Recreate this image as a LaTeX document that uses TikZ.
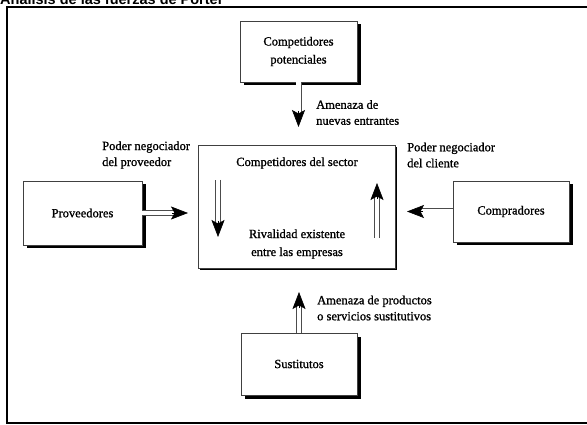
\documentclass[tikz,border=0pt]{standalone}
\usepackage{fontspec}
\setmainfont{Liberation Serif}
\newfontfamily\diagfont{Liberation Serif}[FakeBold=1.1]
\newfontfamily\titlefont{Liberation Sans}
\usetikzlibrary{arrows.meta,shadows,calc}
\tikzset{
  box/.style={draw=black!75, line width=0.7pt, fill=white, align=center,
    font=\diagfont\fontsize{12.5}{18}\selectfont,
    drop shadow={shadow xshift=3.5pt, shadow yshift=-3.5pt, fill=black, opacity=1}},
  bigbox/.style={draw=black!75, line width=0.7pt, fill=white,
    drop shadow={shadow xshift=2pt, shadow yshift=-2pt, fill=black, opacity=1}},
  lbl/.style={align=left, inner sep=0pt, anchor=west,
    font=\diagfont\fontsize{12.5}{16}\selectfont},
  txt/.style={align=center, inner sep=0pt, font=\diagfont\fontsize{12.5}{18}\selectfont},
  shaft/.style={double=white, draw=black!70, double distance=4.4pt, line width=0.8pt,
    shorten >=13pt},
  head/.style={draw=black, line width=0.6pt,
    -{Stealth[length=17pt, width=13pt, inset=3.5pt]}},
}
\newcommand{\forcearrow}[2]{%
  \draw[shaft] (#1) -- (#2);
  \draw[head] ($(#2)!16pt!(#1)$) -- (#2);}
\begin{document}
\begin{tikzpicture}[x=1pt, y=-1pt]
\useasboundingbox (0,0) rectangle (587,425);
\clip (0,0) rectangle (587,425);
\fill[white] (0,0) rectangle (587,425);
% frame and title
\draw[line width=1.5pt] (7,7) rectangle (600,423);
\node[anchor=base west, inner sep=0pt, font=\titlefont\bfseries\fontsize{14.5}{16}\selectfont] (title) at (0,4.5) {Análisis de las fuerzas de Porter};
% boxes
\node[box, minimum width=117pt, minimum height=61pt] (top) at (298.5,51.5) {Competidores\\potenciales};
\node[bigbox, minimum width=197pt, minimum height=123pt] (sector) at (296.5,206.5) {};
\node[box, minimum width=119pt, minimum height=64pt] (prov) at (82.5,213) {Proveedores};
\node[box, minimum width=116pt, minimum height=61pt] (comp) at (511,211.5) {Compradores};
\node[box, minimum width=116pt, minimum height=62pt] (sust) at (299,364) {Sustitutos};
% texts inside the sector box
\node[txt] (sectitle) at (297,163) {Competidores del sector};
\node[txt] (rival) at (297,244) {Rivalidad existente\\entre las empresas};
% end points
\coordinate (tEnd) at (298.5,127);
\coordinate (pEnd) at (188,213);
\coordinate (cEnd) at (407,211.5);
\coordinate (sEnd) at (299,292);
\coordinate (lA) at (218,180);
\coordinate (lB) at (218,237);
\coordinate (rA) at (377,238);
\coordinate (rB) at (377,183);
% arrows
\forcearrow{top.south}{tEnd}
\forcearrow{prov.east}{pEnd}
\forcearrow{comp.west}{cEnd}
\forcearrow{sust.north}{sEnd}
\forcearrow{lA}{lB}
\forcearrow{rA}{rB}
% labels
\node[lbl] (l1) at (316,112.5) {Amenaza de\\nuevas entrantes};
\node[lbl] (l2) at (102,155) {Poder negociador\\del proveedor};
\node[lbl] (l3) at (407,155) {Poder negociador\\del cliente};
\node[lbl] (l4) at (317,308) {Amenaza de productos\\o servicios sustitutivos};
\end{tikzpicture}
\end{document}
